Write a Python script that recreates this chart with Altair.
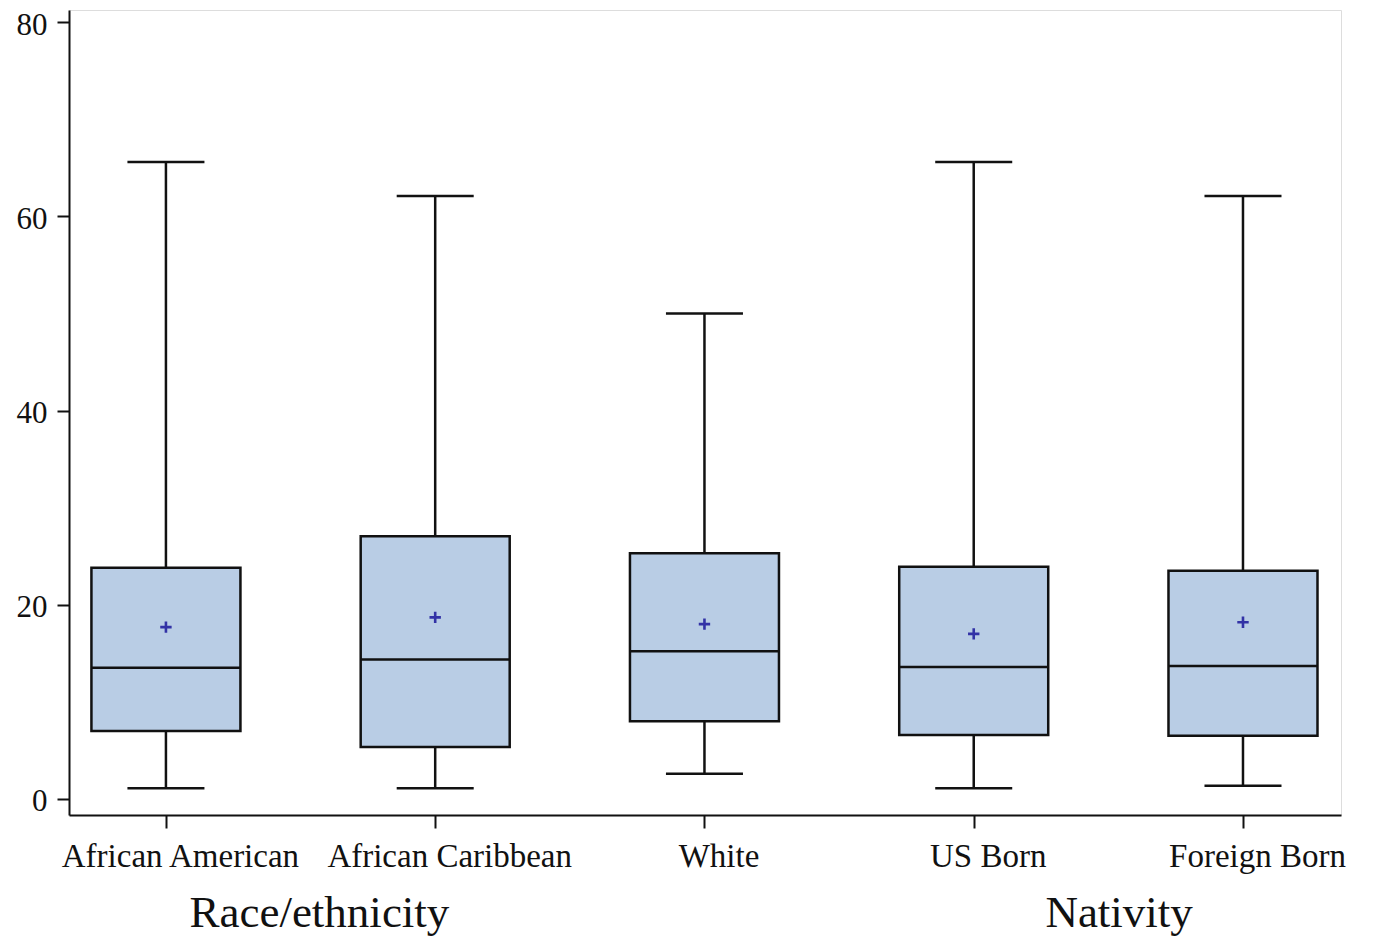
import json
import altair as alt
import pandas as pd

categories = ["African American", "African Caribbean", "White", "US Born", "Foreign Born"]
positions = [0, 1, 2, 3, 4]
whisker_low = [1.1, 1.1, 2.6, 1.1, 1.35]
q1 = [7.0, 5.35, 8.0, 6.6, 6.5]
median = [13.5, 14.35, 15.2, 13.6, 13.7]
q3 = [23.8, 27.05, 25.3, 23.9, 23.5]
whisker_high = [65.6, 62.1, 50.0, 65.6, 62.1]
means = [17.7, 18.7, 18.0, 17.0, 18.2]

group_titles = ["Race/ethnicity", "Nativity"]
group_anchor = [0.57, 3.54]

df = pd.DataFrame({
    "cat": categories, "pos": positions, "low": whisker_low, "q1": q1,
    "med": median, "q3": q3, "high": whisker_high, "mean": means,
})
gdf = pd.DataFrame({"title": group_titles, "pos": group_anchor})

FONT = "Liberation Serif"
W, H = 1272, 805
xs = alt.Scale(domain=[-0.36, 4.364], nice=False, zero=False)
ys = alt.Scale(domain=[-1.65, 81.24], nice=False, zero=False)

label_expr = json.dumps(categories) + "[datum.value]"
xaxis = alt.Axis(values=positions, labelExpr=label_expr, title=None, grid=False,
                 labelFont=FONT, labelFontSize=33, labelColor="#111", labelLimit=0,
                 tickSize=13, tickWidth=2, tickColor="#111", domainColor="#111",
                 domainWidth=2, labelPadding=12, labelOffset=14, labelFlush=False,
                 labelOverlap=False)
yaxis = alt.Axis(values=[0, 20, 40, 60, 80], title=None, grid=False,
                 labelFont=FONT, labelFontSize=31, labelColor="#111",
                 tickSize=12, tickWidth=2, tickColor="#111", domainColor="#111",
                 domainWidth=2, labelPadding=10, labelOffset=3)

base = alt.Chart(df)
LW = 2.5

whisk_hi = base.mark_rule(color="#111", strokeWidth=LW).encode(
    x=alt.X("pos:Q", scale=xs, axis=xaxis), y=alt.Y("q3:Q", scale=ys, axis=yaxis), y2="high:Q")
whisk_lo = base.mark_rule(color="#111", strokeWidth=LW).encode(
    x=alt.X("pos:Q", scale=xs), y=alt.Y("low:Q", scale=ys), y2="q1:Q")

caps = base.transform_fold(["low", "high"], as_=["k", "v"]).transform_calculate(
    xa="datum.pos - 0.143", xb="datum.pos + 0.143"
).mark_rule(color="#111", strokeWidth=LW).encode(
    x=alt.X("xa:Q", scale=xs), x2="xb:Q", y=alt.Y("v:Q", scale=ys))

box = base.transform_calculate(
    xa="datum.pos - 0.2767", xb="datum.pos + 0.2767"
).mark_rect(fill="#B9CDE5", stroke="#111", strokeWidth=LW).encode(
    x=alt.X("xa:Q", scale=xs), x2="xb:Q", y=alt.Y("q1:Q", scale=ys), y2="q3:Q")

med = base.transform_calculate(
    xa="datum.pos - 0.2767", xb="datum.pos + 0.2767"
).mark_rule(color="#111", strokeWidth=LW).encode(
    x=alt.X("xa:Q", scale=xs), x2="xb:Q", y=alt.Y("med:Q", scale=ys))

mean_pt = base.mark_point(shape="M-1,0L1,0M0,-1L0,1", filled=False, size=130,
                          stroke="#3232A6", strokeWidth=2.6, opacity=1).encode(
    x=alt.X("pos:Q", scale=xs), y=alt.Y("mean:Q", scale=ys))

titles = alt.Chart(gdf).mark_text(font=FONT, fontSize=45, color="#111",
                                  baseline="alphabetic", align="center", clip=False).encode(
    x=alt.X("pos:Q", scale=xs), y=alt.value(917), text="title:N")

chart = alt.layer(whisk_hi, whisk_lo, caps, box, med, mean_pt, titles).properties(
    width=W, height=H,
    autosize=alt.AutoSizeParams(type="none"),
    padding={"left": 61, "top": 2, "right": 24, "bottom": 125},
).configure_view(stroke="#444", strokeWidth=1.5).configure(background="white")

chart.save("out.html", embed_options={"renderer": "svg", "actions": False})
